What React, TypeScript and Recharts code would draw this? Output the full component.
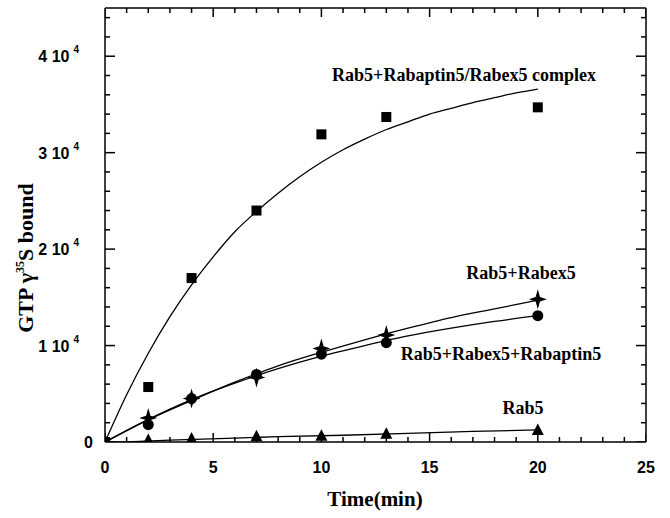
import React from 'react';
import { ComposedChart, XAxis, YAxis, Line, Scatter } from 'recharts';

// measured time points (min)
const times = [0, 2, 4, 7, 10, 13, 20];
const complexValues = [0, 5700, 17000, 24000, 31900, 33700, 34700];
const rabex5Values = [0, 2500, 4500, 6700, 9700, 11100, 14800];
const rabex5RabaptinValues = [0, 1800, 4500, 7000, 9100, 10300, 13100];
const rab5Values = [0, 200, 350, 600, 650, 850, 1250];

// fitted curves
const complexCurveTimes = [0, 1, 2, 3, 4, 5, 6, 7, 8, 9, 10, 11, 12, 13, 14, 15, 16, 17, 18, 19, 20];
const complexCurveValues = [0, 4900, 9200, 13000, 16300, 19200, 21800, 23900, 25800, 27500, 29000, 30300, 31400, 32400, 33200, 34000, 34600, 35200, 35700, 36200, 36600];
const fitTimes = [0, 2, 4, 6, 8, 10, 12, 14, 16, 18, 20];
const rabex5CurveValues = [0, 2300, 4300, 6200, 7900, 9300, 10600, 11800, 12900, 13800, 14700];
const rabex5RabaptinCurveValues = [0, 2350, 4400, 6100, 7600, 8900, 10000, 11000, 11800, 12500, 13100];
const rab5CurveTimes = [0, 1, 3, 6, 8, 11, 14, 17, 20];
const rab5CurveValues = [0, 0, 200, 400, 550, 700, 900, 1100, 1250];

const xTicks = [0, 1, 2, 3, 4, 5, 6, 7, 8, 9, 10, 11, 12, 13, 14, 15, 16, 17, 18, 19, 20, 21, 22, 23, 24, 25];
const yTicks = [0, 2000, 4000, 6000, 8000, 10000, 12000, 14000, 16000, 18000, 20000, 22000, 24000, 26000, 28000, 30000, 32000, 34000, 36000, 38000, 40000, 42000, 44000];

const X_MIN = 0;
const X_MAX = 25;
const Y_MIN = 0;
const Y_MAX = 45000;

const zip = (xs: number[], ys: number[]) => xs.map((x, i) => ({ x, y: ys[i] }));

const complexPts = zip(times, complexValues);
const rabex5Pts = zip(times, rabex5Values);
const rabex5RabaptinPts = zip(times, rabex5RabaptinValues);
const rab5Pts = zip(times, rab5Values);
const complexCurve = zip(complexCurveTimes, complexCurveValues);
const rabex5Curve = zip(fitTimes, rabex5CurveValues);
const rabex5RabaptinCurve = zip(fitTimes, rabex5RabaptinCurveValues);
const rab5Curve = zip(rab5CurveTimes, rab5CurveValues);

// tick anchor points on the four frame edges
const bottomTickPts = xTicks.map((t) => ({ x: t, y: Y_MIN }));
const topTickPts = xTicks.map((t) => ({ x: t, y: Y_MAX }));
const leftTickPts = yTicks.map((v) => ({ x: X_MIN, y: v }));
const rightTickPts = yTicks.map((v) => ({ x: X_MAX, y: v }));

const tickFont = '"Liberation Sans", Arial, sans-serif';
const serif = '"Liberation Serif", "Times New Roman", serif';

const renderBottomTick = (props: any) => {
  const { x, y, payload } = props;
  const v = payload.value;
  const major = v % 5 === 0;
  return (
    <g key={`b${v}`}>
      {major && (
        <text x={x} y={y + 31} textAnchor="middle" fontFamily={tickFont} fontWeight="bold" fontSize={16} fill="#000">
          {v}
        </text>
      )}
    </g>
  );
};

const renderLeftTick = (props: any) => {
  const { x, y, payload } = props;
  const v = payload.value;
  const major = v % 10000 === 0;
  return (
    <g key={`l${v}`}>
      {major && v === 0 && (
        <text x={x - 12} y={y + 6} textAnchor="end" fontFamily={tickFont} fontWeight="bold" fontSize={16} fill="#000">
          0
        </text>
      )}
      {major && v !== 0 && (
        <text x={x - 26} y={y + 6} textAnchor="end" fontFamily={tickFont} fontWeight="bold" fontSize={16} fill="#000">
          {`${v / 10000} 10`}
          <tspan dx={4} dy={-9} fontSize={10}>4</tspan>
        </text>
      )}
    </g>
  );
};

const xMajor = (p: any) => (p.payload?.x ?? 0) % 5 === 0;
const yMajor = (p: any) => (p.payload?.y ?? 0) % 10000 === 0;
const BottomMark = (p: any) => (
  <path d={`M${p.cx},${p.cy}V${p.cy - (xMajor(p) ? 9 : 5)}`} stroke="#000" strokeWidth={1.5} fill="none" />
);
const TopMark = (p: any) => (
  <path d={`M${p.cx},${p.cy}V${p.cy + (xMajor(p) ? 9 : 5)}`} stroke="#000" strokeWidth={1.5} fill="none" />
);
const LeftMark = (p: any) => (
  <path d={`M${p.cx},${p.cy}H${p.cx + (yMajor(p) ? 10 : 5)}`} stroke="#000" strokeWidth={1.5} fill="none" />
);
const RightMark = (p: any) => (
  <path d={`M${p.cx},${p.cy}H${p.cx - (yMajor(p) ? 10 : 5)}`} stroke="#000" strokeWidth={1.5} fill="none" />
);

const Square = (p: any) => <rect x={p.cx - 5} y={p.cy - 5} width={10} height={10} fill="#000" />;
const Dot = (p: any) => <circle cx={p.cx} cy={p.cy} r={5.5} fill="#000" />;
const Tri = (p: any) => (
  <path d={`M${p.cx},${p.cy - 6.5} L${p.cx + 6},${p.cy + 5} L${p.cx - 6},${p.cy + 5} Z`} fill="#000" />
);
const Star = (p: any) => {
  const { cx, cy } = p;
  return (
    <path
      d={`M${cx},${cy - 10} L${cx + 2.2},${cy - 2.2} L${cx + 9},${cy} L${cx + 2.2},${cy + 2.2} L${cx},${cy + 10} L${cx - 2.2},${cy + 2.2} L${cx - 9},${cy} L${cx - 2.2},${cy - 2.2} Z`}
      fill="#000"
    />
  );
};

const lineProps = {
  dataKey: 'y',
  stroke: '#000',
  strokeWidth: 1.3,
  dot: false,
  activeDot: false,
  isAnimationActive: false,
  xAxisId: 'b',
  yAxisId: 'l',
} as const;

const scatterProps = { dataKey: 'y', xAxisId: 'b', yAxisId: 'l', isAnimationActive: false } as const;

export default function App() {
  return (
    <div style={{ position: 'absolute', left: 0, top: 0, width: 670, height: 518 }}>
      <ComposedChart width={670} height={518} margin={{ top: 0, right: 0, bottom: 0, left: 0 }}>
        <XAxis
          xAxisId="b"
          type="number"
          dataKey="x"
          domain={[X_MIN, X_MAX]}
          ticks={xTicks}
          interval={0}
          height={76}
          tickSize={0}
          tickMargin={0}
          tickLine={false}
          tick={renderBottomTick}
          axisLine={{ stroke: '#000', strokeWidth: 1.5 }}
          allowDataOverflow
        />
        <XAxis
          xAxisId="t"
          orientation="top"
          type="number"
          dataKey="x"
          domain={[X_MIN, X_MAX]}
          height={8}
          tickLine={false}
          tick={false}
          axisLine={{ stroke: '#000', strokeWidth: 1.5 }}
          allowDataOverflow
        />
        <YAxis
          yAxisId="l"
          type="number"
          domain={[Y_MIN, Y_MAX]}
          ticks={yTicks}
          interval={0}
          width={105}
          tickSize={0}
          tickMargin={0}
          tickLine={false}
          tick={renderLeftTick}
          axisLine={{ stroke: '#000', strokeWidth: 1.5 }}
          allowDataOverflow
        />
        <YAxis
          yAxisId="r"
          orientation="right"
          type="number"
          domain={[Y_MIN, Y_MAX]}
          width={24}
          tickLine={false}
          tick={false}
          axisLine={{ stroke: '#000', strokeWidth: 1.5 }}
          allowDataOverflow
        />
        <Scatter {...scatterProps} data={bottomTickPts} shape={BottomMark} />
        <Scatter {...scatterProps} data={topTickPts} shape={TopMark} />
        <Scatter {...scatterProps} data={leftTickPts} shape={LeftMark} />
        <Scatter {...scatterProps} data={rightTickPts} shape={RightMark} />
        <Line {...lineProps} data={complexCurve} type="monotone" />
        <Line {...lineProps} data={rabex5Curve} type="monotone" />
        <Line {...lineProps} data={rabex5RabaptinCurve} type="monotone" />
        <Line {...lineProps} data={rab5Curve} type="linear" />
        <Scatter {...scatterProps} data={rab5Pts} shape={Tri} />
        <Scatter {...scatterProps} data={rabex5RabaptinPts} shape={Dot} />
        <Scatter {...scatterProps} data={rabex5Pts} shape={Star} />
        <Scatter {...scatterProps} data={complexPts} shape={Square} />
        <Scatter data={complexPts} dataKey="y" xAxisId="t" yAxisId="r" shape={() => null} isAnimationActive={false} />
        <g fontFamily={serif} fontWeight="bold" fill="#000">
          <text x={464} y={81} fontSize={18} textAnchor="middle">Rab5+Rabaptin5/Rabex5 complex</text>
          <text x={521} y={279} fontSize={18} textAnchor="middle">Rab5+Rabex5</text>
          <text x={501} y={360} fontSize={18} textAnchor="middle">Rab5+Rabex5+Rabaptin5</text>
          <text x={523} y={414} fontSize={18} textAnchor="middle">Rab5</text>
          <text x={375} y={506} fontSize={21} textAnchor="middle">Time(min)</text>
          <text x={33} y={258} fontSize={22} textAnchor="middle" transform="rotate(-90 33 258)">
            GTP γ<tspan dy={-9} fontSize={12}>35</tspan><tspan dy={9}>S bound</tspan>
          </text>
        </g>
      </ComposedChart>
    </div>
  );
}
